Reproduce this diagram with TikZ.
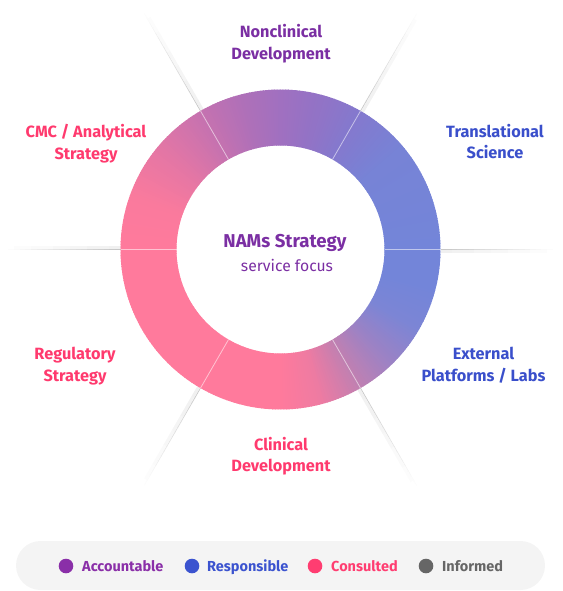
\documentclass[tikz,border=0pt]{standalone}
\usepackage{fontspec}
\setmainfont{Fira Sans}
\definecolor{cPur}{HTML}{7B2FA3}
\definecolor{cBlu}{HTML}{3A4FCB}
\definecolor{cPnk}{HTML}{FF3A6E}
\definecolor{cGry}{HTML}{666666}
\definecolor{dPur}{HTML}{8A2FA8}
\definecolor{dBlu}{HTML}{3B53CF}
\definecolor{dPnk}{HTML}{FF3D71}
\definecolor{legbg}{HTML}{F4F4F4}
% ring colour stops
\definecolor{g0}{HTML}{7385D9}
\definecolor{g1}{HTML}{7783D6}
\definecolor{g2}{HTML}{8479CE}
\definecolor{g3}{HTML}{9273C6}
\definecolor{g4}{HTML}{A070C0}
\definecolor{g5}{HTML}{B070B8}
\definecolor{g6}{HTML}{C572B0}
\definecolor{g7}{HTML}{E476A5}
\definecolor{g8}{HTML}{FA7A9D}
\definecolor{g9}{HTML}{FF7A9C}
\definecolor{g10}{HTML}{EE7BA2}
\definecolor{g11}{HTML}{C080B2}
\definecolor{g12}{HTML}{9A82C6}
\definecolor{g13}{HTML}{7C85D5}
\newcommand\labfont{\fontsize{16.3}{21.7}\selectfont\bfseries}
\newcommand\legfont{\fontsize{14.5}{17}\selectfont\bfseries}
\tikzset{
  lab/.style={anchor=base, align=center, inner sep=0pt, font=\labfont},
  dot/.style={circle, minimum size=14.6pt, inner sep=0pt},
  legtext/.style={anchor=base west, inner sep=0pt, font=\legfont},
}
\begin{document}
\begin{tikzpicture}[x=1pt,y=1pt]
\useasboundingbox (0,0) rectangle (562,-591);
\coordinate (C) at (280.5,-249.5);
% outer divider lines with soft shadow
\foreach \t in {0,60,...,300}{
  \begin{scope}[shift={(C)}, rotate=\t]
    \foreach \i in {0,...,19}{
      \pgfmathsetmacro\ra{160+\i*5.6}
      \pgfmathsetmacro\rb{\ra+6}
      \pgfmathtruncatemacro\ks{round(6*(1-\i/20))}
      \draw[black!\ks, line width=3pt] (\ra,-2.2) -- (\rb,-2.2);
    }
    \foreach \i in {0,...,19}{
      \pgfmathsetmacro\ra{160+\i*5.6}
      \pgfmathsetmacro\rb{\ra+6}
      \pgfmathtruncatemacro\k{round(22*(1-\i/20))}
      \draw[black!\k, line width=0.7pt] (\ra,0) -- (\rb,0);
    }
  \end{scope}
}
% gradient ring
\begin{scope}[shift={(C)}]
\foreach \a/\b/\ca/\cb in {0/40/g0/g1, 40/60/g1/g2, 60/75/g2/g3, 75/90/g3/g4, 90/105/g4/g5, 105/120/g5/g6, 120/140/g6/g7, 140/160/g7/g8, 160/180/g8/g9, 180/270/g9/g9, 270/285/g9/g10, 285/300/g10/g11, 300/315/g11/g12, 315/330/g12/g13, 330/346/g13/g0, 346/360/g0/g0}{
  \pgfmathtruncatemacro\n{\b-\a}
  \foreach \i in {1,...,\n}{
    \pgfmathsetmacro\tA{\a+\i-1}
    \pgfmathsetmacro\tB{\a+\i+0.35}
    \pgfmathtruncatemacro\f{round((\i-0.5)/(\b-\a)*100)}
    \fill[\cb!\f!\ca] (\tA:160pt) arc[start angle=\tA, end angle=\tB, radius=160pt]
      -- (\tB:104pt) arc[start angle=\tB, end angle=\tA, radius=104pt] -- cycle;
  }
}
\foreach \t in {0,60,...,300}{
  \draw[white, opacity=0.55, line width=0.8pt] (\t:104pt) -- (\t:160pt);
}
\end{scope}
% centre text
\node[anchor=base, inner sep=0pt, text=cPur, font=\fontsize{18.6}{22}\selectfont\bfseries] (title) at (285,-247) {NAMs Strategy};
\node[anchor=base, inner sep=0pt, text=cPur, font=\fontsize{15.7}{18}\selectfont] (sub) at (287,-271) {service focus};
% labels (anchor = baseline of last line)
\node[lab, text=cPur] (nonclin) at (281,-59.3) {Nonclinical\\Development};
\node[lab, text=cBlu] (transl) at (495,-158.7) {Translational\\Science};
\node[lab, text=cBlu] (extern) at (483.5,-381) {External\\Platforms / Labs};
\node[lab, text=cPnk] (clin) at (281,-471.7) {Clinical\\Development};
\node[lab, text=cPnk] (regul) at (75,-381) {Regulatory\\Strategy};
\node[lab, text=cPnk] (cmc) at (86,-159.3) {CMC / Analytical\\Strategy};
% legend
\node[fill=legbg, rounded corners=24.5pt, minimum width=529pt, minimum height=49pt, inner sep=0pt] (legend) at (280.5,-565.5) {};
\node[dot, fill=dPur] (dA) at (66,-566) {};
\node[dot, fill=dBlu] (dR) at (192,-566) {};
\node[dot, fill=dPnk] (dC) at (315,-566) {};
\node[dot, fill=cGry] (dI) at (426,-566) {};
\node[legtext, text=dPur] (tA) at (82,-571.5) {Accountable};
\node[legtext, text=dBlu] (tR) at (207,-571.5) {Responsible};
\node[legtext, text=dPnk] (tC) at (331,-571.5) {Consulted};
\node[legtext, text=cGry] (tI) at (442,-571.5) {Informed};
\end{tikzpicture}
\end{document}
